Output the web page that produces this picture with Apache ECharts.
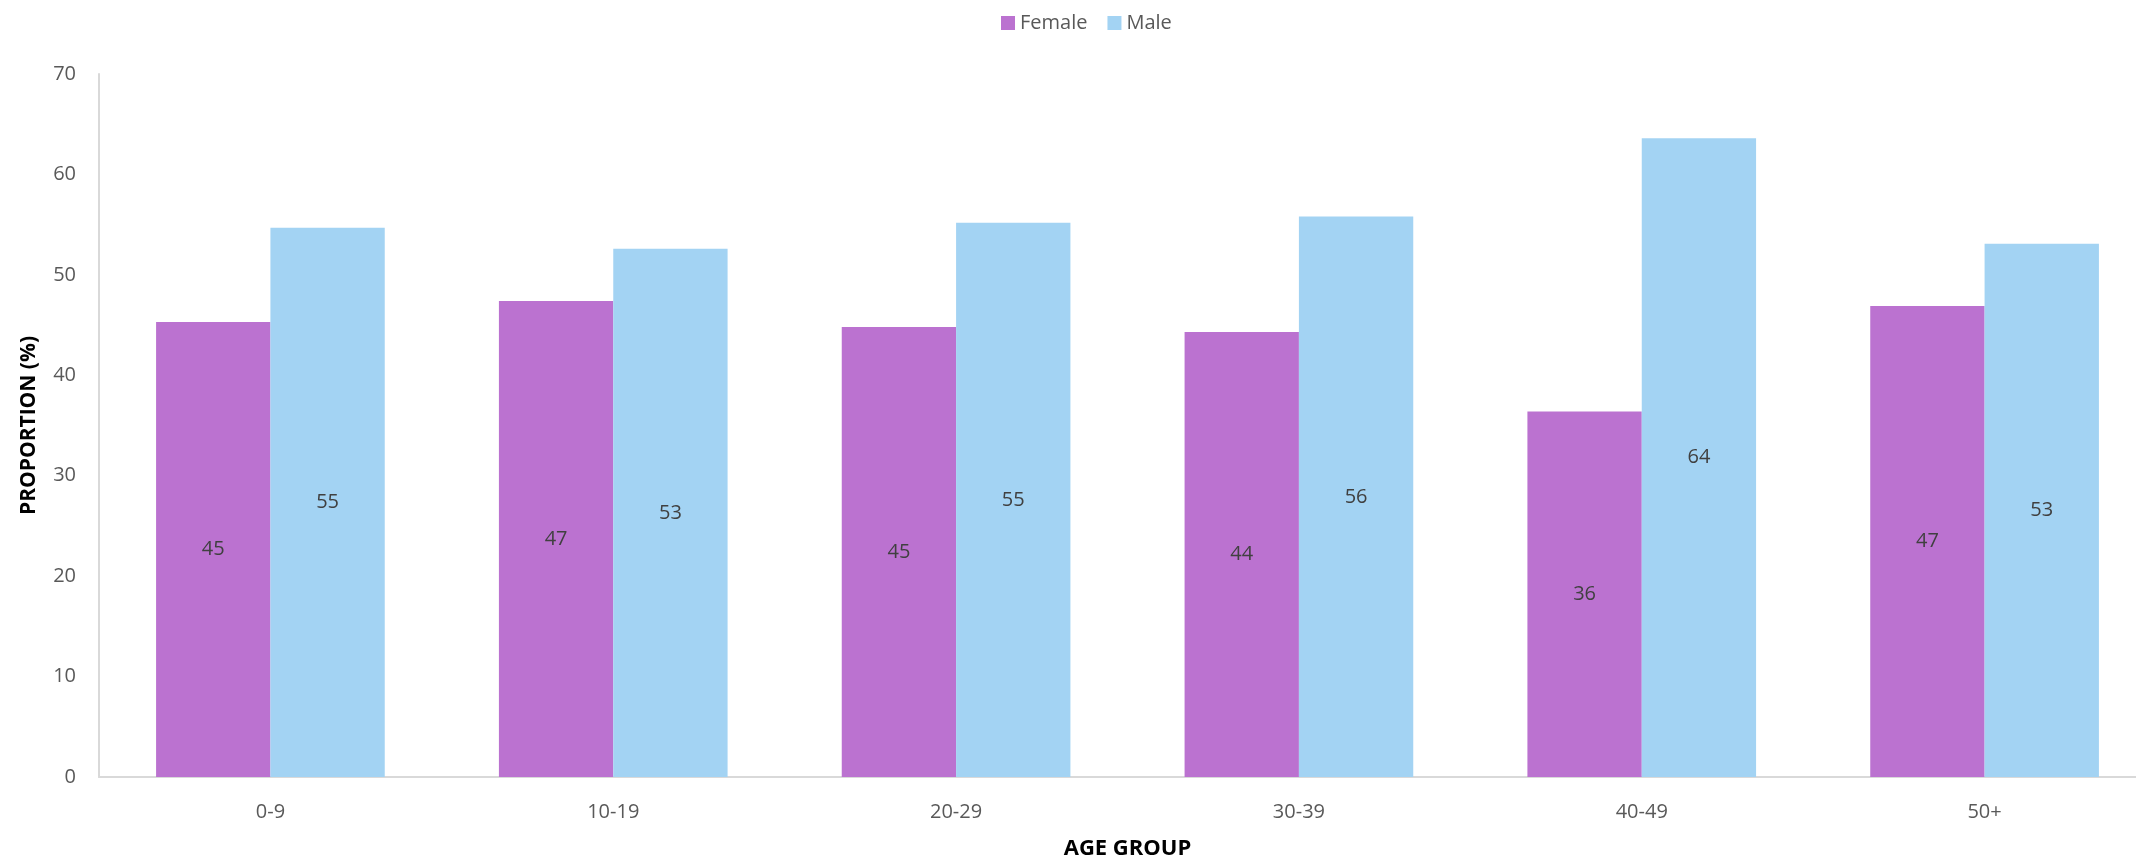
<!DOCTYPE html>
<html>
<head>
<meta charset="utf-8">
<script src="https://cdn.jsdelivr.net/npm/echarts@6/dist/echarts.min.js"></script>
<style>
  html, body { margin: 0; padding: 0; background: #ffffff; }
  #chart { width: 2136px; height: 859px; }
</style>
</head>
<body>
<div id="chart"></div>
<script>
// Sex distribution by age group (percent of each group)
const ageGroups = ['0-9', '10-19', '20-29', '30-39', '40-49', '50+'];
const femaleShare = [45.3, 47.4, 44.8, 44.3, 36.4, 46.9];
const maleShare = [54.7, 52.6, 55.2, 55.8, 63.6, 53.1];
const yTicks = { min: 0, max: 70, step: 10 };

const FONT = '"Open Sans", "Noto Sans", sans-serif';
const TEXT_GREY = '#595959';
const AXIS_GREY = '#d9d9d9';

const chart = echarts.init(document.getElementById('chart'), null, { renderer: 'canvas' });

const valueLabel = {
  show: true,
  position: 'inside',
  color: '#404040',
  fontFamily: FONT,
  fontSize: 20,
  formatter: p => Math.round(p.value).toString()
};

chart.setOption({
  animation: false,
  backgroundColor: '#ffffff',
  textStyle: { fontFamily: FONT },
  legend: {
    top: 8,
    left: 996,
    itemWidth: 14,
    itemHeight: 14,
    itemGap: 20,
    icon: 'rect',
    textStyle: { color: TEXT_GREY, fontSize: 20, fontFamily: FONT },
    data: ['Female', 'Male']
  },
  // the plot area runs slightly past the right edge of the canvas
  grid: {
    left: 99,
    width: 2057,
    top: 74,
    bottom: 82,
    containLabel: false,
    outerBoundsMode: 'none'
  },
  xAxis: {
    type: 'category',
    data: ageGroups,
    name: 'AGE GROUP',
    nameLocation: 'middle',
    nameGap: 61,
    nameTextStyle: { color: '#000000', fontWeight: 'bold', fontSize: 22, fontFamily: FONT },
    axisLine: { show: true, lineStyle: { color: AXIS_GREY, width: 2 } },
    axisTick: { show: false },
    axisLabel: { color: TEXT_GREY, fontSize: 20, fontFamily: FONT, margin: 25 },
    splitLine: { show: false }
  },
  yAxis: {
    type: 'value',
    min: yTicks.min,
    max: yTicks.max,
    interval: yTicks.step,
    name: 'PROPORTION (%)',
    nameLocation: 'middle',
    nameRotate: 90,
    nameGap: 59,
    nameTextStyle: { color: '#000000', fontWeight: 'bold', fontSize: 21, fontFamily: FONT },
    axisLine: { show: true, lineStyle: { color: AXIS_GREY, width: 2 } },
    axisTick: { show: false },
    axisLabel: { color: TEXT_GREY, fontSize: 20, fontFamily: FONT, margin: 23 },
    splitLine: { show: false }
  },
  series: [
    {
      name: 'Female',
      type: 'bar',
      data: femaleShare,
      barGap: '0%',
      barCategoryGap: '33.3%',
      itemStyle: { color: '#bb72d0' },
      label: valueLabel
    },
    {
      name: 'Male',
      type: 'bar',
      data: maleShare,
      barGap: '0%',
      barCategoryGap: '33.3%',
      itemStyle: { color: '#a3d3f3' },
      label: valueLabel
    }
  ]
});
</script>
</body>
</html>
